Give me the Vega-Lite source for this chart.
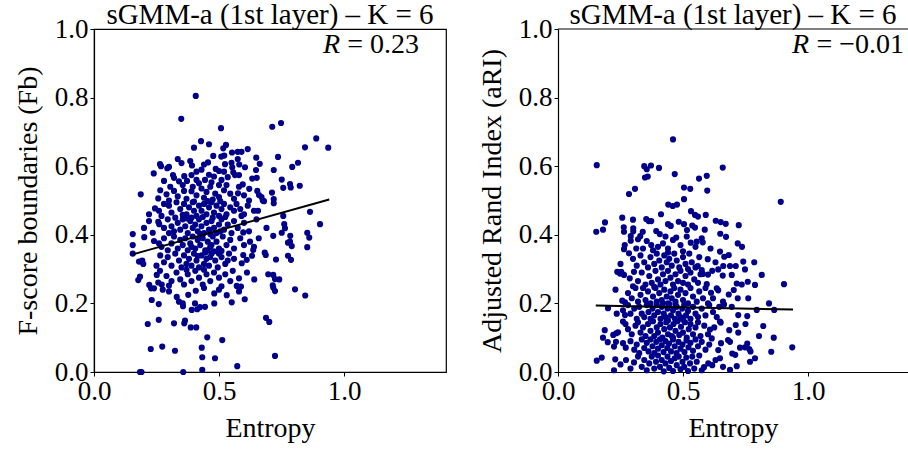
{
"$schema": "https://vega.github.io/schema/vega-lite/v6.json",
"background": "white",
"padding": {"left": 13, "top": 0, "right": 0, "bottom": 0},
"bounds": "flush",
"spacing": 112,
"config": {
  "font": "Liberation Serif",
  "view": {"stroke": "black", "strokeWidth": 1.2},
  "axis": {"grid": false, "labelFontSize": 27, "titleFontSize": 28, "labelColor": "black", "titleColor": "black", "titleFontWeight": "normal", "domainColor": "black", "domainWidth": 1.2, "tickColor": "black", "tickSize": 4, "tickWidth": 1, "labelPadding": 2, "labelFont": "Liberation Serif", "titleFont": "Liberation Serif", "labelFlush": false},
  "title": {"fontSize": 29, "fontWeight": "normal", "font": "Liberation Serif", "color": "black", "offset": -15}
},
"datasets": {
"left": [
{"entropy":0.407,"score":0.805},{"entropy":0.349,"score":0.738},{"entropy":0.508,"score":0.711},{"entropy":0.713,"score":0.715},{"entropy":0.748,"score":0.726},{"entropy":0.889,"score":0.681},{"entropy":0.937,"score":0.654},{"entropy":0.844,"score":0.655},{"entropy":0.428,"score":0.673},{"entropy":0.46,"score":0.664},{"entropy":0.40,"score":0.654},{"entropy":0.528,"score":0.662},{"entropy":0.517,"score":0.652},{"entropy":0.552,"score":0.64},{"entropy":0.521,"score":0.631},{"entropy":0.509,"score":0.628},{"entropy":0.524,"score":0.606},{"entropy":0.55,"score":0.61},{"entropy":0.335,"score":0.621},{"entropy":0.35,"score":0.609},{"entropy":0.264,"score":0.606},{"entropy":0.268,"score":0.6},{"entropy":0.3,"score":0.598},{"entropy":0.385,"score":0.615},{"entropy":0.392,"score":0.602},{"entropy":0.456,"score":0.611},{"entropy":0.575,"score":0.642},{"entropy":0.59,"score":0.642},{"entropy":0.615,"score":0.65},{"entropy":0.649,"score":0.625},{"entropy":0.736,"score":0.627},{"entropy":0.663,"score":0.607},{"entropy":0.575,"score":0.621},{"entropy":0.581,"score":0.605},{"entropy":0.816,"score":0.61},{"entropy":0.604,"score":0.597},{"entropy":0.553,"score":0.597},{"entropy":0.44,"score":0.605},{"entropy":0.477,"score":0.63},{"entropy":0.293,"score":0.594},
{"entropy":0.239,"score":0.579},{"entropy":0.316,"score":0.574},{"entropy":0.32,"score":0.566},{"entropy":0.361,"score":0.571},{"entropy":0.39,"score":0.574},{"entropy":0.41,"score":0.584},{"entropy":0.487,"score":0.592},{"entropy":0.5,"score":0.586},{"entropy":0.52,"score":0.584},{"entropy":0.48,"score":0.57},{"entropy":0.557,"score":0.582},{"entropy":0.564,"score":0.574},{"entropy":0.58,"score":0.574},{"entropy":0.648,"score":0.589},{"entropy":0.651,"score":0.566},{"entropy":0.633,"score":0.564},{"entropy":0.719,"score":0.589},{"entropy":0.793,"score":0.598},{"entropy":0.751,"score":0.561},{"entropy":0.784,"score":0.548},{"entropy":0.787,"score":0.538},{"entropy":0.757,"score":0.537},{"entropy":0.823,"score":0.543},{"entropy":0.595,"score":0.547},{"entropy":0.576,"score":0.521},{"entropy":0.621,"score":0.534},{"entropy":0.653,"score":0.528},{"entropy":0.66,"score":0.516},{"entropy":0.67,"score":0.51},{"entropy":0.675,"score":0.5},{"entropy":0.712,"score":0.523},{"entropy":0.719,"score":0.504},{"entropy":0.372,"score":0.557},{"entropy":0.41,"score":0.56},{"entropy":0.42,"score":0.55},{"entropy":0.444,"score":0.56},{"entropy":0.46,"score":0.575},{"entropy":0.47,"score":0.553},{"entropy":0.51,"score":0.56},{"entropy":0.535,"score":0.568},{"entropy":0.5,"score":0.545},{"entropy":0.34,"score":0.556},{"entropy":0.43,"score":0.59},{"entropy":0.28,"score":0.557},{"entropy":0.187,"score":0.518},{"entropy":0.257,"score":0.506},{"entropy":0.29,"score":0.518},{"entropy":0.32,"score":0.528},{"entropy":0.36,"score":0.528},{"entropy":0.39,"score":0.527},{"entropy":0.335,"score":0.512},{"entropy":0.37,"score":0.505},{"entropy":0.41,"score":0.515},{"entropy":0.43,"score":0.535},{"entropy":0.45,"score":0.525},{"entropy":0.465,"score":0.54},{"entropy":0.485,"score":0.52},{"entropy":0.5,"score":0.51},{"entropy":0.52,"score":0.53},{"entropy":0.545,"score":0.52},{"entropy":0.56,"score":0.505},{"entropy":0.6,"score":0.515},{"entropy":0.62,"score":0.5},{"entropy":0.305,"score":0.54},{"entropy":0.265,"score":0.53},{"entropy":0.355,"score":0.545},{"entropy":0.395,"score":0.54},{"entropy":0.44,"score":0.508},{"entropy":0.475,"score":0.503},{"entropy":0.53,"score":0.545},{"entropy":0.58,"score":0.54},
{"entropy":0.244,"score":0.477},{"entropy":0.26,"score":0.47},{"entropy":0.28,"score":0.49},{"entropy":0.3,"score":0.485},{"entropy":0.31,"score":0.465},{"entropy":0.33,"score":0.495},{"entropy":0.345,"score":0.475},{"entropy":0.36,"score":0.49},{"entropy":0.37,"score":0.46},{"entropy":0.38,"score":0.48},{"entropy":0.395,"score":0.495},{"entropy":0.4,"score":0.47},{"entropy":0.41,"score":0.455},{"entropy":0.42,"score":0.485},{"entropy":0.43,"score":0.47},{"entropy":0.44,"score":0.49},{"entropy":0.45,"score":0.46},{"entropy":0.46,"score":0.48},{"entropy":0.47,"score":0.495},{"entropy":0.48,"score":0.465},{"entropy":0.49,"score":0.485},{"entropy":0.5,"score":0.455},{"entropy":0.51,"score":0.475},{"entropy":0.52,"score":0.49},{"entropy":0.53,"score":0.46},{"entropy":0.545,"score":0.48},{"entropy":0.56,"score":0.47},{"entropy":0.57,"score":0.49},{"entropy":0.585,"score":0.475},{"entropy":0.6,"score":0.46},{"entropy":0.615,"score":0.485},{"entropy":0.64,"score":0.47},{"entropy":0.656,"score":0.47},{"entropy":0.68,"score":0.498},{"entropy":0.719,"score":0.492},{"entropy":0.864,"score":0.467},{"entropy":0.757,"score":0.455},{"entropy":0.22,"score":0.46},{"entropy":0.27,"score":0.455},{"entropy":0.325,"score":0.45},{"entropy":0.355,"score":0.458},{"entropy":0.39,"score":0.45},{"entropy":0.435,"score":0.452},{"entropy":0.475,"score":0.45},{"entropy":0.525,"score":0.452},{"entropy":0.59,"score":0.455},{"entropy":0.4,"score":0.497},{"entropy":0.455,"score":0.498},{"entropy":0.505,"score":0.498},{"entropy":0.3,"score":0.5},
{"entropy":0.257,"score":0.438},{"entropy":0.261,"score":0.431},{"entropy":0.235,"score":0.406},{"entropy":0.155,"score":0.402},{"entropy":0.2,"score":0.42},{"entropy":0.22,"score":0.44},{"entropy":0.28,"score":0.42},{"entropy":0.295,"score":0.445},{"entropy":0.31,"score":0.425},{"entropy":0.32,"score":0.41},{"entropy":0.335,"score":0.435},{"entropy":0.345,"score":0.415},{"entropy":0.355,"score":0.445},{"entropy":0.365,"score":0.425},{"entropy":0.375,"score":0.405},{"entropy":0.385,"score":0.44},{"entropy":0.395,"score":0.42},{"entropy":0.405,"score":0.43},{"entropy":0.415,"score":0.41},{"entropy":0.42,"score":0.445},{"entropy":0.43,"score":0.425},{"entropy":0.44,"score":0.405},{"entropy":0.45,"score":0.435},{"entropy":0.46,"score":0.415},{"entropy":0.47,"score":0.44},{"entropy":0.48,"score":0.42},{"entropy":0.49,"score":0.405},{"entropy":0.5,"score":0.43},{"entropy":0.51,"score":0.445},{"entropy":0.52,"score":0.415},{"entropy":0.535,"score":0.43},{"entropy":0.55,"score":0.405},{"entropy":0.56,"score":0.44},{"entropy":0.575,"score":0.42},{"entropy":0.6,"score":0.435},{"entropy":0.62,"score":0.41},{"entropy":0.65,"score":0.445},{"entropy":0.597,"score":0.407},{"entropy":0.751,"score":0.406},{"entropy":0.761,"score":0.431},{"entropy":0.764,"score":0.419},{"entropy":0.853,"score":0.406},{"entropy":0.904,"score":0.431},{"entropy":0.69,"score":0.42},{"entropy":0.3,"score":0.405},{"entropy":0.37,"score":0.448},{"entropy":0.425,"score":0.402},{"entropy":0.465,"score":0.402},{"entropy":0.505,"score":0.41},
{"entropy":0.155,"score":0.37},{"entropy":0.201,"score":0.393},{"entropy":0.24,"score":0.382},{"entropy":0.861,"score":0.392},{"entropy":0.853,"score":0.364},{"entropy":0.785,"score":0.397},{"entropy":0.784,"score":0.38},{"entropy":0.776,"score":0.377},{"entropy":0.791,"score":0.367},{"entropy":0.717,"score":0.397},{"entropy":0.659,"score":0.39},{"entropy":0.624,"score":0.38},{"entropy":0.64,"score":0.365},{"entropy":0.637,"score":0.356},{"entropy":0.6,"score":0.37},{"entropy":0.585,"score":0.39},{"entropy":0.56,"score":0.36},{"entropy":0.545,"score":0.385},{"entropy":0.53,"score":0.37},{"entropy":0.515,"score":0.395},{"entropy":0.5,"score":0.36},{"entropy":0.49,"score":0.38},{"entropy":0.475,"score":0.395},{"entropy":0.465,"score":0.365},{"entropy":0.455,"score":0.38},{"entropy":0.445,"score":0.355},{"entropy":0.435,"score":0.39},{"entropy":0.425,"score":0.37},{"entropy":0.415,"score":0.385},{"entropy":0.405,"score":0.36},{"entropy":0.395,"score":0.395},{"entropy":0.385,"score":0.375},{"entropy":0.375,"score":0.355},{"entropy":0.365,"score":0.39},{"entropy":0.355,"score":0.37},{"entropy":0.345,"score":0.385},{"entropy":0.335,"score":0.36},{"entropy":0.32,"score":0.395},{"entropy":0.31,"score":0.375},{"entropy":0.295,"score":0.355},{"entropy":0.28,"score":0.39},{"entropy":0.27,"score":0.365},{"entropy":0.26,"score":0.375},{"entropy":0.455,"score":0.355},{"entropy":0.48,"score":0.352},{"entropy":0.51,"score":0.353},{"entropy":0.43,"score":0.398},{"entropy":0.47,"score":0.37},{"entropy":0.39,"score":0.365},
{"entropy":0.155,"score":0.345},{"entropy":0.18,"score":0.322},{"entropy":0.193,"score":0.325},{"entropy":0.197,"score":0.315},{"entropy":0.683,"score":0.348},{"entropy":0.687,"score":0.341},{"entropy":0.776,"score":0.339},{"entropy":0.788,"score":0.327},{"entropy":0.728,"score":0.328},{"entropy":0.632,"score":0.339},{"entropy":0.597,"score":0.341},{"entropy":0.611,"score":0.327},{"entropy":0.591,"score":0.317},{"entropy":0.56,"score":0.33},{"entropy":0.54,"score":0.345},{"entropy":0.525,"score":0.315},{"entropy":0.51,"score":0.335},{"entropy":0.495,"score":0.305},{"entropy":0.485,"score":0.325},{"entropy":0.47,"score":0.345},{"entropy":0.46,"score":0.31},{"entropy":0.45,"score":0.33},{"entropy":0.44,"score":0.315},{"entropy":0.43,"score":0.34},{"entropy":0.42,"score":0.305},{"entropy":0.41,"score":0.325},{"entropy":0.4,"score":0.345},{"entropy":0.39,"score":0.31},{"entropy":0.38,"score":0.33},{"entropy":0.37,"score":0.315},{"entropy":0.36,"score":0.34},{"entropy":0.35,"score":0.305},{"entropy":0.34,"score":0.325},{"entropy":0.325,"score":0.345},{"entropy":0.31,"score":0.31},{"entropy":0.295,"score":0.335},{"entropy":0.28,"score":0.32},{"entropy":0.265,"score":0.34},{"entropy":0.25,"score":0.31},{"entropy":0.465,"score":0.335},{"entropy":0.445,"score":0.348},{"entropy":0.415,"score":0.338},{"entropy":0.5,"score":0.345},{"entropy":0.535,"score":0.325},
{"entropy":0.177,"score":0.268},{"entropy":0.184,"score":0.278},{"entropy":0.221,"score":0.254},{"entropy":0.251,"score":0.283},{"entropy":0.264,"score":0.295},{"entropy":0.257,"score":0.261},{"entropy":0.271,"score":0.255},{"entropy":0.612,"score":0.29},{"entropy":0.58,"score":0.273},{"entropy":0.571,"score":0.251},{"entropy":0.588,"score":0.249},{"entropy":0.641,"score":0.27},{"entropy":0.697,"score":0.285},{"entropy":0.717,"score":0.283},{"entropy":0.724,"score":0.271},{"entropy":0.715,"score":0.253},{"entropy":0.741,"score":0.27},{"entropy":0.3,"score":0.252},{"entropy":0.29,"score":0.28},{"entropy":0.31,"score":0.265},{"entropy":0.33,"score":0.29},{"entropy":0.345,"score":0.27},{"entropy":0.36,"score":0.255},{"entropy":0.375,"score":0.285},{"entropy":0.39,"score":0.265},{"entropy":0.405,"score":0.295},{"entropy":0.42,"score":0.275},{"entropy":0.435,"score":0.255},{"entropy":0.45,"score":0.285},{"entropy":0.465,"score":0.265},{"entropy":0.48,"score":0.29},{"entropy":0.5,"score":0.275},{"entropy":0.51,"score":0.25},{"entropy":0.525,"score":0.285},{"entropy":0.545,"score":0.265},{"entropy":0.555,"score":0.295},{"entropy":0.44,"score":0.298},{"entropy":0.37,"score":0.298},
{"entropy":0.228,"score":0.244},{"entropy":0.24,"score":0.244},{"entropy":0.231,"score":0.21},{"entropy":0.259,"score":0.198},{"entropy":0.717,"score":0.246},{"entropy":0.724,"score":0.236},{"entropy":0.804,"score":0.241},{"entropy":0.845,"score":0.223},{"entropy":0.603,"score":0.212},{"entropy":0.551,"score":0.203},{"entropy":0.531,"score":0.224},{"entropy":0.481,"score":0.229},{"entropy":0.481,"score":0.2},{"entropy":0.407,"score":0.237},{"entropy":0.404,"score":0.2},{"entropy":0.377,"score":0.225},{"entropy":0.331,"score":0.219},{"entropy":0.34,"score":0.205},{"entropy":0.355,"score":0.2},{"entropy":0.3,"score":0.235},{"entropy":0.275,"score":0.24},{"entropy":0.44,"score":0.245},{"entropy":0.5,"score":0.24},{"entropy":0.58,"score":0.235},
{"entropy":0.391,"score":0.181},{"entropy":0.413,"score":0.183},{"entropy":0.424,"score":0.189},{"entropy":0.444,"score":0.19},{"entropy":0.356,"score":0.192},{"entropy":0.688,"score":0.158},{"entropy":0.259,"score":0.152},{"entropy":0.364,"score":0.15},
{"entropy":0.215,"score":0.14},{"entropy":0.32,"score":0.142},{"entropy":0.361,"score":0.142},{"entropy":0.387,"score":0.13},{"entropy":0.409,"score":0.13},{"entropy":0.701,"score":0.146},{"entropy":0.453,"score":0.101},
{"entropy":0.513,"score":0.093},{"entropy":0.227,"score":0.067},{"entropy":0.273,"score":0.074},{"entropy":0.324,"score":0.062},{"entropy":0.431,"score":0.071},{"entropy":0.433,"score":0.043},{"entropy":0.484,"score":0.04},{"entropy":0.433,"score":0.006},{"entropy":0.19,"score":0.0},{"entropy":0.184,"score":0.0},{"entropy":0.357,"score":0.0},{"entropy":0.573,"score":0.017},{"entropy":0.724,"score":0.047}
],
"right": [
{"entropy":0.46,"score":0.678},{"entropy":0.155,"score":0.603},{"entropy":0.345,"score":0.6},{"entropy":0.355,"score":0.591},{"entropy":0.372,"score":0.602},{"entropy":0.404,"score":0.595},{"entropy":0.348,"score":0.567},{"entropy":0.359,"score":0.57},{"entropy":0.467,"score":0.577},{"entropy":0.659,"score":0.596},{"entropy":0.564,"score":0.564},{"entropy":0.595,"score":0.572},
{"entropy":0.597,"score":0.529},{"entropy":0.504,"score":0.538},{"entropy":0.529,"score":0.534},{"entropy":0.504,"score":0.504},{"entropy":0.284,"score":0.519},{"entropy":0.308,"score":0.534},{"entropy":0.441,"score":0.488},{"entropy":0.459,"score":0.484},{"entropy":0.476,"score":0.488},{"entropy":0.412,"score":0.46},{"entropy":0.532,"score":0.469},{"entropy":0.548,"score":0.458},{"entropy":0.56,"score":0.453},{"entropy":0.591,"score":0.458},{"entropy":0.257,"score":0.45},{"entropy":0.891,"score":0.496},
{"entropy":0.3,"score":0.444},{"entropy":0.353,"score":0.446},{"entropy":0.363,"score":0.44},{"entropy":0.373,"score":0.44},{"entropy":0.188,"score":0.436},{"entropy":0.631,"score":0.441},{"entropy":0.651,"score":0.437},{"entropy":0.671,"score":0.432},{"entropy":0.723,"score":0.428},{"entropy":0.548,"score":0.421},{"entropy":0.587,"score":0.415},{"entropy":0.649,"score":0.403},{"entropy":0.153,"score":0.409},{"entropy":0.18,"score":0.415},{"entropy":0.263,"score":0.422},{"entropy":0.264,"score":0.409},{"entropy":0.301,"score":0.419},{"entropy":0.301,"score":0.41},{"entropy":0.339,"score":0.409},{"entropy":0.393,"score":0.411},{"entropy":0.407,"score":0.402},{"entropy":0.44,"score":0.431},{"entropy":0.451,"score":0.426},{"entropy":0.483,"score":0.438},{"entropy":0.504,"score":0.431},{"entropy":0.516,"score":0.414},{"entropy":0.537,"score":0.427},
{"entropy":0.329,"score":0.396},{"entropy":0.291,"score":0.396},{"entropy":0.32,"score":0.387},{"entropy":0.291,"score":0.383},{"entropy":0.473,"score":0.392},{"entropy":0.264,"score":0.358},{"entropy":0.313,"score":0.36},{"entropy":0.34,"score":0.36},{"entropy":0.373,"score":0.37},{"entropy":0.38,"score":0.355},{"entropy":0.4,"score":0.365},{"entropy":0.42,"score":0.375},{"entropy":0.44,"score":0.36},{"entropy":0.46,"score":0.385},{"entropy":0.49,"score":0.37},{"entropy":0.531,"score":0.377},{"entropy":0.55,"score":0.365},{"entropy":0.575,"score":0.39},{"entropy":0.555,"score":0.38},{"entropy":0.579,"score":0.378},{"entropy":0.672,"score":0.394},{"entropy":0.719,"score":0.375},{"entropy":0.736,"score":0.365},{"entropy":0.648,"score":0.351},{"entropy":0.61,"score":0.36},{"entropy":0.5,"score":0.352},{"entropy":0.355,"score":0.382},{"entropy":0.43,"score":0.395},{"entropy":0.515,"score":0.395},{"entropy":0.267,"score":0.37},
{"entropy":0.284,"score":0.346},{"entropy":0.3,"score":0.33},{"entropy":0.315,"score":0.31},{"entropy":0.33,"score":0.34},{"entropy":0.345,"score":0.32},{"entropy":0.36,"score":0.305},{"entropy":0.37,"score":0.335},{"entropy":0.385,"score":0.315},{"entropy":0.395,"score":0.345},{"entropy":0.405,"score":0.325},{"entropy":0.415,"score":0.305},{"entropy":0.425,"score":0.34},{"entropy":0.435,"score":0.32},{"entropy":0.445,"score":0.33},{"entropy":0.455,"score":0.31},{"entropy":0.465,"score":0.345},{"entropy":0.475,"score":0.325},{"entropy":0.485,"score":0.305},{"entropy":0.5,"score":0.335},{"entropy":0.51,"score":0.315},{"entropy":0.525,"score":0.345},{"entropy":0.535,"score":0.32},{"entropy":0.55,"score":0.305},{"entropy":0.565,"score":0.335},{"entropy":0.599,"score":0.329},{"entropy":0.559,"score":0.309},{"entropy":0.665,"score":0.336},{"entropy":0.683,"score":0.341},{"entropy":0.661,"score":0.309},{"entropy":0.688,"score":0.309},{"entropy":0.711,"score":0.309},{"entropy":0.741,"score":0.322},{"entropy":0.785,"score":0.32},{"entropy":0.63,"score":0.32},{"entropy":0.25,"score":0.315},{"entropy":0.44,"score":0.348},{"entropy":0.52,"score":0.3},
{"entropy":0.253,"score":0.292},{"entropy":0.264,"score":0.283},{"entropy":0.287,"score":0.273},{"entropy":0.237,"score":0.292},{"entropy":0.248,"score":0.287},{"entropy":0.304,"score":0.292},{"entropy":0.575,"score":0.297},{"entropy":0.579,"score":0.286},{"entropy":0.57,"score":0.285},{"entropy":0.6,"score":0.284},{"entropy":0.617,"score":0.295},{"entropy":0.641,"score":0.299},{"entropy":0.748,"score":0.299},{"entropy":0.815,"score":0.283},{"entropy":0.904,"score":0.256},{"entropy":0.659,"score":0.281},{"entropy":0.695,"score":0.283},{"entropy":0.759,"score":0.263},{"entropy":0.788,"score":0.254},{"entropy":0.715,"score":0.258},{"entropy":0.735,"score":0.255},{"entropy":0.595,"score":0.256},{"entropy":0.32,"score":0.265},{"entropy":0.335,"score":0.29},{"entropy":0.35,"score":0.255},{"entropy":0.365,"score":0.28},{"entropy":0.375,"score":0.26},{"entropy":0.39,"score":0.295},{"entropy":0.4,"score":0.27},{"entropy":0.41,"score":0.255},{"entropy":0.42,"score":0.285},{"entropy":0.43,"score":0.265},{"entropy":0.44,"score":0.295},{"entropy":0.45,"score":0.275},{"entropy":0.46,"score":0.255},{"entropy":0.47,"score":0.285},{"entropy":0.48,"score":0.265},{"entropy":0.49,"score":0.295},{"entropy":0.5,"score":0.26},{"entropy":0.51,"score":0.28},{"entropy":0.52,"score":0.255},{"entropy":0.53,"score":0.29},{"entropy":0.545,"score":0.27},{"entropy":0.56,"score":0.26},{"entropy":0.3,"score":0.25},
{"entropy":0.257,"score":0.208},{"entropy":0.268,"score":0.203},{"entropy":0.635,"score":0.244},{"entropy":0.641,"score":0.238},{"entropy":0.612,"score":0.231},{"entropy":0.683,"score":0.226},{"entropy":0.703,"score":0.239},{"entropy":0.719,"score":0.215},{"entropy":0.761,"score":0.215},{"entropy":0.844,"score":0.2},{"entropy":0.28,"score":0.23},{"entropy":0.295,"score":0.215},{"entropy":0.31,"score":0.245},{"entropy":0.32,"score":0.205},{"entropy":0.33,"score":0.225},{"entropy":0.34,"score":0.245},{"entropy":0.35,"score":0.21},{"entropy":0.36,"score":0.235},{"entropy":0.37,"score":0.2},{"entropy":0.38,"score":0.22},{"entropy":0.39,"score":0.245},{"entropy":0.395,"score":0.205},{"entropy":0.405,"score":0.23},{"entropy":0.415,"score":0.21},{"entropy":0.425,"score":0.24},{"entropy":0.435,"score":0.22},{"entropy":0.44,"score":0.2},{"entropy":0.45,"score":0.235},{"entropy":0.455,"score":0.215},{"entropy":0.465,"score":0.245},{"entropy":0.47,"score":0.205},{"entropy":0.48,"score":0.225},{"entropy":0.49,"score":0.24},{"entropy":0.5,"score":0.21},{"entropy":0.51,"score":0.23},{"entropy":0.52,"score":0.2},{"entropy":0.53,"score":0.245},{"entropy":0.54,"score":0.22},{"entropy":0.555,"score":0.205},{"entropy":0.565,"score":0.235},{"entropy":0.58,"score":0.215},{"entropy":0.59,"score":0.245},{"entropy":0.6,"score":0.2},{"entropy":0.62,"score":0.215},{"entropy":0.66,"score":0.205},{"entropy":0.23,"score":0.24},{"entropy":0.42,"score":0.2},{"entropy":0.385,"score":0.248},
{"entropy":0.2,"score":0.186},{"entropy":0.664,"score":0.197},{"entropy":0.695,"score":0.19},{"entropy":0.721,"score":0.166},{"entropy":0.757,"score":0.163},{"entropy":0.795,"score":0.181},{"entropy":0.865,"score":0.181},{"entropy":0.26,"score":0.18},{"entropy":0.268,"score":0.166},{"entropy":0.28,"score":0.195},{"entropy":0.29,"score":0.17},{"entropy":0.305,"score":0.185},{"entropy":0.315,"score":0.155},{"entropy":0.325,"score":0.19},{"entropy":0.335,"score":0.17},{"entropy":0.345,"score":0.16},{"entropy":0.355,"score":0.195},{"entropy":0.362,"score":0.175},{"entropy":0.37,"score":0.155},{"entropy":0.378,"score":0.185},{"entropy":0.385,"score":0.165},{"entropy":0.395,"score":0.195},{"entropy":0.4,"score":0.175},{"entropy":0.41,"score":0.155},{"entropy":0.415,"score":0.19},{"entropy":0.423,"score":0.17},{"entropy":0.43,"score":0.16},{"entropy":0.438,"score":0.185},{"entropy":0.445,"score":0.198},{"entropy":0.452,"score":0.165},{"entropy":0.46,"score":0.18},{"entropy":0.468,"score":0.155},{"entropy":0.475,"score":0.19},{"entropy":0.482,"score":0.17},{"entropy":0.49,"score":0.16},{"entropy":0.497,"score":0.185},{"entropy":0.505,"score":0.196},{"entropy":0.512,"score":0.165},{"entropy":0.52,"score":0.178},{"entropy":0.53,"score":0.155},{"entropy":0.54,"score":0.19},{"entropy":0.55,"score":0.17},{"entropy":0.56,"score":0.16},{"entropy":0.575,"score":0.185},{"entropy":0.59,"score":0.165},{"entropy":0.605,"score":0.195},{"entropy":0.62,"score":0.175},{"entropy":0.635,"score":0.16},{"entropy":0.645,"score":0.19},{"entropy":0.235,"score":0.17},{"entropy":0.47,"score":0.197},{"entropy":0.44,"score":0.15},{"entropy":0.5,"score":0.152},
{"entropy":0.26,"score":0.147},{"entropy":0.27,"score":0.14},{"entropy":0.28,"score":0.125},{"entropy":0.187,"score":0.122},{"entropy":0.18,"score":0.1},{"entropy":0.233,"score":0.113},{"entropy":0.221,"score":0.108},{"entropy":0.24,"score":0.116},{"entropy":0.648,"score":0.147},{"entropy":0.651,"score":0.144},{"entropy":0.685,"score":0.122},{"entropy":0.711,"score":0.137},{"entropy":0.721,"score":0.115},{"entropy":0.608,"score":0.124},{"entropy":0.821,"score":0.134},{"entropy":0.804,"score":0.105},{"entropy":0.863,"score":0.1},{"entropy":0.295,"score":0.11},{"entropy":0.31,"score":0.135},{"entropy":0.32,"score":0.145},{"entropy":0.33,"score":0.115},{"entropy":0.34,"score":0.13},{"entropy":0.35,"score":0.105},{"entropy":0.36,"score":0.14},{"entropy":0.37,"score":0.12},{"entropy":0.38,"score":0.148},{"entropy":0.385,"score":0.105},{"entropy":0.395,"score":0.13},{"entropy":0.4,"score":0.115},{"entropy":0.41,"score":0.14},{"entropy":0.418,"score":0.1},{"entropy":0.425,"score":0.125},{"entropy":0.433,"score":0.145},{"entropy":0.44,"score":0.11},{"entropy":0.448,"score":0.13},{"entropy":0.455,"score":0.105},{"entropy":0.462,"score":0.14},{"entropy":0.47,"score":0.12},{"entropy":0.478,"score":0.148},{"entropy":0.485,"score":0.108},{"entropy":0.492,"score":0.132},{"entropy":0.5,"score":0.115},{"entropy":0.508,"score":0.145},{"entropy":0.515,"score":0.1},{"entropy":0.523,"score":0.125},{"entropy":0.53,"score":0.14},{"entropy":0.54,"score":0.11},{"entropy":0.55,"score":0.13},{"entropy":0.56,"score":0.145},{"entropy":0.57,"score":0.105},{"entropy":0.585,"score":0.135},{"entropy":0.6,"score":0.11},{"entropy":0.625,"score":0.13},{"entropy":0.75,"score":0.14},{"entropy":0.46,"score":0.1},
{"entropy":0.199,"score":0.087},{"entropy":0.232,"score":0.088},{"entropy":0.26,"score":0.084},{"entropy":0.271,"score":0.071},{"entropy":0.615,"score":0.098},{"entropy":0.937,"score":0.072},{"entropy":0.853,"score":0.059},{"entropy":0.757,"score":0.083},{"entropy":0.765,"score":0.067},{"entropy":0.77,"score":0.06},{"entropy":0.728,"score":0.071},{"entropy":0.748,"score":0.072},{"entropy":0.652,"score":0.084},{"entropy":0.68,"score":0.093},{"entropy":0.688,"score":0.088},{"entropy":0.641,"score":0.064},{"entropy":0.697,"score":0.054},{"entropy":0.709,"score":0.05},{"entropy":0.224,"score":0.074},{"entropy":0.29,"score":0.09},{"entropy":0.305,"score":0.065},{"entropy":0.315,"score":0.08},{"entropy":0.325,"score":0.055},{"entropy":0.335,"score":0.095},{"entropy":0.345,"score":0.07},{"entropy":0.355,"score":0.085},{"entropy":0.362,"score":0.06},{"entropy":0.37,"score":0.095},{"entropy":0.378,"score":0.075},{"entropy":0.385,"score":0.055},{"entropy":0.393,"score":0.088},{"entropy":0.4,"score":0.068},{"entropy":0.408,"score":0.095},{"entropy":0.415,"score":0.078},{"entropy":0.422,"score":0.058},{"entropy":0.43,"score":0.09},{"entropy":0.437,"score":0.07},{"entropy":0.444,"score":0.083},{"entropy":0.452,"score":0.06},{"entropy":0.46,"score":0.095},{"entropy":0.467,"score":0.075},{"entropy":0.474,"score":0.055},{"entropy":0.482,"score":0.088},{"entropy":0.49,"score":0.068},{"entropy":0.498,"score":0.08},{"entropy":0.506,"score":0.058},{"entropy":0.514,"score":0.092},{"entropy":0.522,"score":0.072},{"entropy":0.53,"score":0.085},{"entropy":0.54,"score":0.062},{"entropy":0.55,"score":0.095},{"entropy":0.56,"score":0.075},{"entropy":0.575,"score":0.088},{"entropy":0.59,"score":0.065},{"entropy":0.605,"score":0.08},
{"entropy":0.175,"score":0.042},{"entropy":0.155,"score":0.033},{"entropy":0.229,"score":0.037},{"entropy":0.224,"score":0.005},{"entropy":0.272,"score":0.035},{"entropy":0.304,"score":0.028},{"entropy":0.648,"score":0.04},{"entropy":0.715,"score":0.017},{"entropy":0.688,"score":0.006},{"entropy":0.601,"score":0.025},{"entropy":0.617,"score":0.02},{"entropy":0.584,"score":0.014},{"entropy":0.788,"score":0.04},{"entropy":0.768,"score":0.03},{"entropy":0.32,"score":0.045},{"entropy":0.335,"score":0.015},{"entropy":0.345,"score":0.035},{"entropy":0.355,"score":0.005},{"entropy":0.365,"score":0.025},{"entropy":0.375,"score":0.045},{"entropy":0.385,"score":0.01},{"entropy":0.392,"score":0.03},{"entropy":0.4,"score":0.048},{"entropy":0.408,"score":0.015},{"entropy":0.415,"score":0.035},{"entropy":0.423,"score":0.002},{"entropy":0.43,"score":0.025},{"entropy":0.438,"score":0.045},{"entropy":0.445,"score":0.012},{"entropy":0.452,"score":0.032},{"entropy":0.46,"score":0.003},{"entropy":0.467,"score":0.04},{"entropy":0.475,"score":0.02},{"entropy":0.483,"score":0.045},{"entropy":0.49,"score":0.008},{"entropy":0.498,"score":0.03},{"entropy":0.505,"score":0.015},{"entropy":0.513,"score":0.042},{"entropy":0.52,"score":0.003},{"entropy":0.528,"score":0.025},{"entropy":0.537,"score":0.045},{"entropy":0.545,"score":0.01},{"entropy":0.555,"score":0.03},{"entropy":0.565,"score":0.048},{"entropy":0.575,"score":0.005},{"entropy":0.63,"score":0.035},{"entropy":0.66,"score":0.015},{"entropy":0.29,"score":0.01},{"entropy":0.25,"score":0.022}
],
"leftFit": [{"entropy":0.155,"score":0.343},{"entropy":0.941,"score":0.503}],
"rightFit": [{"entropy":0.151,"score":0.194},{"entropy":0.94,"score":0.182}]
},
"hconcat": [
{
  "width": 352, "height": 343,
  "title": "sGMM-a (1st layer) – K = 6",
  "layer": [
    {"data": {"name": "left"},
     "mark": {"type": "circle", "size": 38, "color": "#00008b", "opacity": 1},
     "encoding": {
       "x": {"field": "entropy", "type": "quantitative", "scale": {"domain": [0, 1.408], "nice": false, "zero": false}, "axis": {"title": "Entropy", "values": [0, 0.5, 1.0], "format": ".1f", "titlePadding": 10}},
       "y": {"field": "score", "type": "quantitative", "scale": {"domain": [0, 1], "nice": false}, "axis": {"title": "F-score boundaries (Fb)", "values": [0, 0.2, 0.4, 0.6, 0.8, 1.0], "format": ".1f", "titlePadding": 12}}
     }},
    {"data": {"name": "leftFit"},
     "mark": {"type": "line", "color": "black", "strokeWidth": 2},
     "encoding": {"x": {"field": "entropy", "type": "quantitative"}, "y": {"field": "score", "type": "quantitative"}}},
    {"data": {"values": [{"entropy": 1.30, "score": 0.93, "label": "= 0.23"}]},
     "mark": {"type": "text", "align": "right", "baseline": "alphabetic", "fontSize": 28, "font": "Liberation Serif", "color": "black"},
     "encoding": {"x": {"field": "entropy", "type": "quantitative"}, "y": {"field": "score", "type": "quantitative"}, "text": {"field": "label"}}},
    {"data": {"values": [{"entropy": 1.30, "score": 0.93, "label": "R"}]},
     "mark": {"type": "text", "align": "right", "baseline": "alphabetic", "fontSize": 28, "font": "Liberation Serif", "fontStyle": "italic", "color": "black", "dx": -79},
     "encoding": {"x": {"field": "entropy", "type": "quantitative"}, "y": {"field": "score", "type": "quantitative"}, "text": {"field": "label"}}}
  ]
},
{
  "width": 350, "height": 343,
  "view": {"stroke": null},
  "title": "sGMM-a (1st layer) – K = 6",
  "layer": [
    {"data": {"name": "right"},
     "mark": {"type": "circle", "size": 38, "color": "#00008b", "opacity": 1},
     "encoding": {
       "x": {"field": "entropy", "type": "quantitative", "scale": {"domain": [0, 1.4], "nice": false, "zero": false}, "axis": {"title": "Entropy", "values": [0, 0.5, 1.0], "format": ".1f", "titlePadding": 10}},
       "y": {"field": "score", "type": "quantitative", "scale": {"domain": [0, 1], "nice": false}, "axis": {"title": "Adjusted Rand Index (aRI)", "values": [0, 0.2, 0.4, 0.6, 0.8, 1.0], "format": ".1f", "titlePadding": 12}}
     }},
    {"data": {"name": "rightFit"},
     "mark": {"type": "line", "color": "black", "strokeWidth": 2},
     "encoding": {"x": {"field": "entropy", "type": "quantitative"}, "y": {"field": "score", "type": "quantitative"}}},
    {"data": {"values": [{"top": 1}]},
     "mark": {"type": "rule", "color": "black", "strokeWidth": 1.2},
     "encoding": {"y": {"field": "top", "type": "quantitative"}}},
    {"data": {"values": [{"entropy": 1.384, "score": 0.93, "label": "= −0.01"}]},
     "mark": {"type": "text", "align": "right", "baseline": "alphabetic", "fontSize": 28, "font": "Liberation Serif", "color": "black"},
     "encoding": {"x": {"field": "entropy", "type": "quantitative"}, "y": {"field": "score", "type": "quantitative"}, "text": {"field": "label"}}},
    {"data": {"values": [{"entropy": 1.384, "score": 0.93, "label": "R"}]},
     "mark": {"type": "text", "align": "right", "baseline": "alphabetic", "fontSize": 28, "font": "Liberation Serif", "fontStyle": "italic", "color": "black", "dx": -95},
     "encoding": {"x": {"field": "entropy", "type": "quantitative"}, "y": {"field": "score", "type": "quantitative"}, "text": {"field": "label"}}}
  ]
}
]
}
